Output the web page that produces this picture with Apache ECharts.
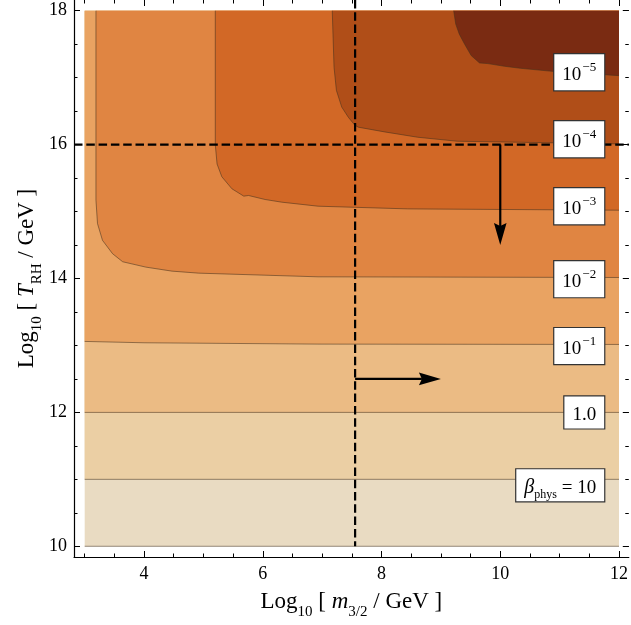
<!DOCTYPE html>
<html><head><meta charset="utf-8">
<script src="https://cdn.jsdelivr.net/npm/echarts@6/dist/echarts.min.js"></script>
<style>html,body{margin:0;padding:0;background:#fff}#c{width:631px;height:625px}</style>
</head><body><div id="c"></div>
<script>
// ---- axis ranges & ticks ----
const X_MIN = 2.82, X_MAX = 12.165, Y_MIN = 9.84, Y_MAX = 18.16;
const xMajorTicks = [4, 6, 8, 10, 12];
const xMinorTicks = [3, 3.5, 4, 4.5, 5, 5.5, 6, 6.5, 7, 7.5, 8, 8.5, 9, 9.5, 10, 10.5, 11, 11.5, 12];
const yMajorTicks = [10, 12, 14, 16, 18];
const yMinorTicks = [10, 10.5, 11, 11.5, 12, 12.5, 13, 13.5, 14, 14.5, 15, 15.5, 16, 16.5, 17, 17.5, 18];

// ---- contour lines (beta_phys levels), bottom to top ----
const contour100 = [[3, 10.0], [12, 10.0]];
const contour10 = [[3, 11.0], [12, 11.0]];
const contour1 = [[3, 12.0], [12, 12.0]];
const contourEm1 = [[3, 13.06], [4, 13.04], [6.93, 13.02], [12, 13.015]];
const contourEm2 = [[3.19, 18], [3.19, 15.17], [3.216, 14.82], [3.30, 14.57], [3.47, 14.37], [3.64, 14.25], [4.03, 14.17], [4.47, 14.11], [4.92, 14.08], [6.93, 14.025], [12, 14.015]];
const contourEm3 = [[5.20, 18], [5.20, 16.0], [5.23, 15.71], [5.31, 15.52], [5.48, 15.34], [5.68, 15.23], [5.76, 15.24], [6.04, 15.18], [6.32, 15.14], [6.93, 15.08], [8.44, 15.04], [12, 15.02]];
const contourEm4 = [[7.17, 18], [7.20, 17.155], [7.24, 16.81], [7.33, 16.56], [7.44, 16.41], [7.55, 16.29], [7.61, 16.26], [8.05, 16.19], [8.61, 16.11], [9.28, 16.05], [10.0, 16.04], [12, 16.01]];
const contourEm5 = [[9.215, 18], [9.25, 17.80], [9.31, 17.65], [9.40, 17.50], [9.51, 17.33], [9.65, 17.22], [9.79, 17.21], [10.07, 17.17], [10.34, 17.14], [10.87, 17.095], [12, 17.03]];
const contours = [contour100, contour10, contour1, contourEm1, contourEm2, contourEm3, contourEm4, contourEm5];
const fillColors = ['#E9DBC2', '#EBCFA4', '#EBBB84', '#E9A362', '#E08542', '#D26826', '#B04E18', '#7A2B12'];

// ---- contour labels ----
const labelTexts = ['{n|10}{sup|−5}', '{n|10}{sup|−4}', '{n|10}{sup|−3}', '{n|10}{sup|−2}', '{n|10}{sup|−1}', '{n|1.0}', '{bi|β}{sub|phys}{n| = 10}'];
const labelY = [17.08, 16.08, 15.08, 13.99, 12.99, 12.0, 10.91];
const LABEL_X = 11.75;

// ---- reference lines & arrows ----
const hLineY = 16;
const vLineX = 7.555;
const arrows = [[10, 16, 10, 14.5], [7.555, 12.5, 9.0, 12.5]];

const SERIF = 'Liberation Serif, Times New Roman, serif';
const chart = echarts.init(document.getElementById('c'));

const nameRich = {
  n: { fontFamily: SERIF, fontSize: 23, color: '#000', lineHeight: 28, verticalAlign: 'middle' },
  i: { fontFamily: SERIF, fontSize: 23, fontStyle: 'italic', color: '#000', lineHeight: 28, verticalAlign: 'middle' },
  s: { fontFamily: SERIF, fontSize: 15, color: '#000', lineHeight: 28, verticalAlign: 'bottom', padding: [0, 0, -4, 0] }
};

function mkX(pos, ticks, len, labels, name) {
  const a = {
    type: 'value', position: pos, min: X_MIN, max: X_MAX, gridIndex: 0,
    axisLine: { show: !!labels, onZero: false, lineStyle: { color: '#000', width: 1.2 } },
    axisTick: { show: true, inside: true, length: len, customValues: ticks, lineStyle: { color: '#000', width: 1 } },
    axisLabel: labels ? { show: true, customValues: ticks, margin: 8, fontFamily: SERIF, fontSize: 18, color: '#000' } : { show: false },
    splitLine: { show: false }
  };
  if (name) {
    a.name = '{n|Log}{s|10}{n| [ }{i|m}{s|3/2}{n| / GeV ]}';
    a.nameLocation = 'middle';
    a.nameGap = 31;
    a.nameTextStyle = { rich: nameRich };
  }
  return a;
}
function mkY(pos, ticks, len, labels, name) {
  const a = {
    type: 'value', position: pos, min: Y_MIN, max: Y_MAX, gridIndex: 0,
    axisLine: { show: !!labels, onZero: false, lineStyle: { color: '#000', width: 1.2 } },
    axisTick: { show: true, inside: true, length: len, customValues: ticks, lineStyle: { color: '#000', width: 1 } },
    axisLabel: labels ? { show: true, customValues: ticks, margin: 7, fontFamily: SERIF, fontSize: 18, color: '#000' } : { show: false },
    splitLine: { show: false }
  };
  if (name) {
    a.name = '{n|Log}{s|10}{n| [ }{i|T}{s|RH}{n| / GeV ]}';
    a.nameLocation = 'middle';
    a.nameGap = 33;
    a.nameMoveOverlap = false;
    a.nameRotate = 90;
    a.nameTextStyle = { rich: nameRich };
  }
  return a;
}

const option = {
  backgroundColor: '#fff',
  animation: false,
  grid: { left: 74, right: 0, top: 0, bottom: 67, containLabel: false },
  xAxis: [
    mkX('bottom', xMajorTicks, 6, true, true),
    mkX('bottom', xMinorTicks, 3.5, false, false),
    mkX('top', xMajorTicks, 6, false, false),
    mkX('top', xMinorTicks, 3.5, false, false)
  ],
  yAxis: [
    mkY('left', yMajorTicks, 6, true, true),
    mkY('left', yMinorTicks, 3.5, false, false),
    mkY('right', yMajorTicks, 6, false, false),
    mkY('right', yMinorTicks, 3.5, false, false)
  ],
  series: [
    {
      type: 'custom', coordinateSystem: 'cartesian2d', xAxisIndex: 0, yAxisIndex: 0,
      silent: true, clip: false, z: 1,
      data: contours.map(c => [c[0][0], c[0][1]]),
      renderItem: (params, api) => {
        const i = params.dataIndex;
        const c = contours[i];
        const pts = c.slice();
        pts.push([12, 18]);
        if (c[0][1] < 18) pts.push([3, 18]);
        return {
          type: 'group',
          children: [
            { type: 'polygon', shape: { points: pts.map(p => api.coord(p)) }, style: { fill: fillColors[i] } },
            { type: 'polyline', shape: { points: c.map(p => api.coord(p)) }, style: { stroke: 'rgba(70,50,30,0.55)', lineWidth: 1, fill: null } }
          ]
        };
      }
    },
    {
      type: 'line', xAxisIndex: 0, yAxisIndex: 0, symbol: 'none', silent: true, z: 5, clip: false,
      data: [[X_MIN, hLineY], [X_MAX, hLineY]],
      lineStyle: { color: '#000', width: 2.2, type: [8.5, 3.8] }
    },
    {
      type: 'line', xAxisIndex: 0, yAxisIndex: 0, symbol: 'none', silent: true, z: 5, clip: false,
      data: [[vLineX, Y_MAX], [vLineX, 10]],
      lineStyle: { color: '#000', width: 2.2, type: [8.5, 3.8] }
    },
    {
      type: 'custom', coordinateSystem: 'cartesian2d', xAxisIndex: 0, yAxisIndex: 0,
      silent: true, clip: false, z: 6,
      data: arrows,
      encode: { x: [0, 2], y: [1, 3] },
      renderItem: (params, api) => {
        const p1 = api.coord([api.value(0), api.value(1)]);
        const p2 = api.coord([api.value(2), api.value(3)]);
        const dx = p2[0] - p1[0], dy = p2[1] - p1[1];
        const L = Math.hypot(dx, dy), ux = dx / L, uy = dy / L;
        const nx = -uy, ny = ux;
        const hl = 22, hw = 6.3, notch = 3;
        const b = [p2[0] - ux * hl, p2[1] - uy * hl];
        const nt = [p2[0] - ux * (hl - notch), p2[1] - uy * (hl - notch)];
        return {
          type: 'group',
          children: [
            { type: 'line', shape: { x1: p1[0], y1: p1[1], x2: nt[0], y2: nt[1] }, style: { stroke: '#000', lineWidth: 2.2 } },
            { type: 'polygon', shape: { points: [p2, [b[0] + nx * hw, b[1] + ny * hw], nt, [b[0] - nx * hw, b[1] - ny * hw]] }, style: { fill: '#000' } }
          ]
        };
      }
    },
    {
      type: 'custom', coordinateSystem: 'cartesian2d', xAxisIndex: 0, yAxisIndex: 0,
      silent: true, clip: false, z: 7,
      data: labelY.map(y => [LABEL_X, y]),
      renderItem: (params, api) => {
        const p = api.coord([api.value(0), api.value(1)]);
        const i = params.dataIndex;
        const isSup = labelTexts[i].indexOf('sup') >= 0;
        return {
          type: 'text',
          style: {
            text: labelTexts[i], x: p[0], y: p[1], align: 'right', verticalAlign: 'middle',
            backgroundColor: '#fff', borderColor: '#333', borderWidth: 1.2,
            padding: isSup ? [7, 8, 6, 8] : [5, 8, 4, 8],
            fontFamily: SERIF, fontSize: 18, fill: '#000',
            rich: {
              n: { fontFamily: SERIF, fontSize: 19, fill: '#000', lineHeight: 23, verticalAlign: 'bottom' },
              bi: { fontFamily: SERIF, fontSize: 20, fontStyle: 'italic', fill: '#000', lineHeight: 23, verticalAlign: 'bottom' },
              sup: { fontFamily: SERIF, fontSize: 13, fill: '#000', lineHeight: 23, verticalAlign: 'top', padding: [0, 0, 0, 1] },
              sub: { fontFamily: SERIF, fontSize: 12, fill: '#000', lineHeight: 23, verticalAlign: 'bottom', padding: [0, 0, -3, 0] }
            }
          }
        };
      }
    }
  ]
};
chart.setOption(option);
</script>
</body></html>
